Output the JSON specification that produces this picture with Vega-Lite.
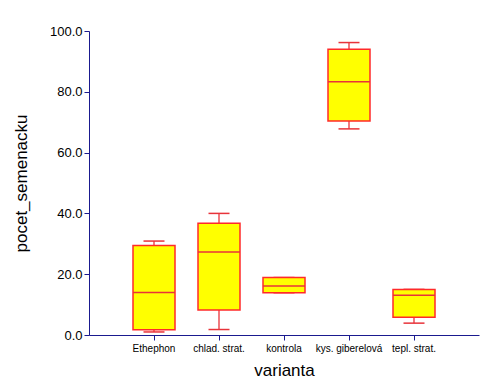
{
  "$schema": "https://vega.github.io/schema/vega-lite/v6.json",
  "width": 390,
  "height": 304,
  "autosize": {"type": "none"},
  "padding": {"left": 89, "top": 31, "right": 21, "bottom": 51},
  "background": "white",
  "config": {
    "view": {"stroke": null},
    "font": "Liberation Sans"
  },
  "data": {
    "values": [
      {"varianta": "Ethephon", "min": 1.0, "q1": 1.7, "median": 14.0, "q3": 29.4, "max": 30.9},
      {"varianta": "chlad. strat.", "min": 1.8, "q1": 8.2, "median": 27.3, "q3": 36.8, "max": 40.0},
      {"varianta": "kontrola", "min": 13.9, "q1": 13.9, "median": 16.1, "q3": 18.9, "max": 18.9},
      {"varianta": "kys. giberelová", "min": 67.8, "q1": 70.4, "median": 83.3, "q3": 94.0, "max": 96.2},
      {"varianta": "tepl. strat.", "min": 3.9, "q1": 5.8, "median": 13.1, "q3": 15.0, "max": 15.0}
    ]
  },
  "encoding": {
    "x": {
      "field": "varianta",
      "type": "nominal",
      "sort": null,
      "scale": {"type": "band", "paddingInner": 0, "paddingOuter": 0.5},
      "axis": {
        "title": "varianta",
        "titleFontSize": 17,
        "titleFontWeight": "normal",
        "titleColor": "black",
        "titleBaseline": "alphabetic",
        "titleY": 40,
        "labelAngle": 0,
        "labelFontSize": 10,
        "labelColor": "black",
        "labelPadding": 3,
        "domainColor": "#1a1a8f",
        "tickColor": "#1a1a8f",
        "tickSize": 5
      }
    }
  },
  "layer": [
    {
      "mark": {"type": "rule", "color": "#e8333a", "strokeWidth": 1.3, "opacity": 1},
      "encoding": {
        "y": {
          "field": "min",
          "type": "quantitative",
          "scale": {"domain": [0, 100], "nice": false, "zero": true},
          "axis": {
            "title": "pocet_semenacku",
            "titleFontSize": 17,
            "titleFontWeight": "normal",
            "titleColor": "black",
            "titleBaseline": "alphabetic",
            "titleX": -63,
            "titleY": 152,
            "values": [0,5,10,15,20,25,30,35,40,45,50,55,60,65,70,75,80,85,90,95,100],
            "labelExpr": "datum.value % 20 === 0 ? format(datum.value, '.1f') : ''",
            "labelFontSize": 13,
            "labelColor": "black",
            "labelPadding": 2,
            "labelFlush": false,
            "labelOverlap": false,
            "grid": false,
            "domainColor": "#1a1a8f",
            "tickColor": "#1a1a8f",
            "tickSize": 5
          }
        },
        "y2": {"field": "max"}
      }
    },
    {
      "mark": {"type": "tick", "color": "#e8333a", "size": 21, "thickness": 1.5, "opacity": 1},
      "encoding": {"y": {"field": "min", "type": "quantitative"}}
    },
    {
      "mark": {"type": "tick", "color": "#e8333a", "size": 21, "thickness": 1.5, "opacity": 1},
      "encoding": {"y": {"field": "max", "type": "quantitative"}}
    },
    {
      "mark": {"type": "bar", "width": 42, "fill": "#ffff00", "stroke": "#ff2a2a", "strokeWidth": 1.5, "opacity": 1},
      "encoding": {
        "y": {"field": "q1", "type": "quantitative"},
        "y2": {"field": "q3"}
      }
    },
    {
      "mark": {"type": "tick", "color": "#e8333a", "size": 42, "thickness": 1.5, "opacity": 1},
      "encoding": {"y": {"field": "median", "type": "quantitative"}}
    }
  ]
}
